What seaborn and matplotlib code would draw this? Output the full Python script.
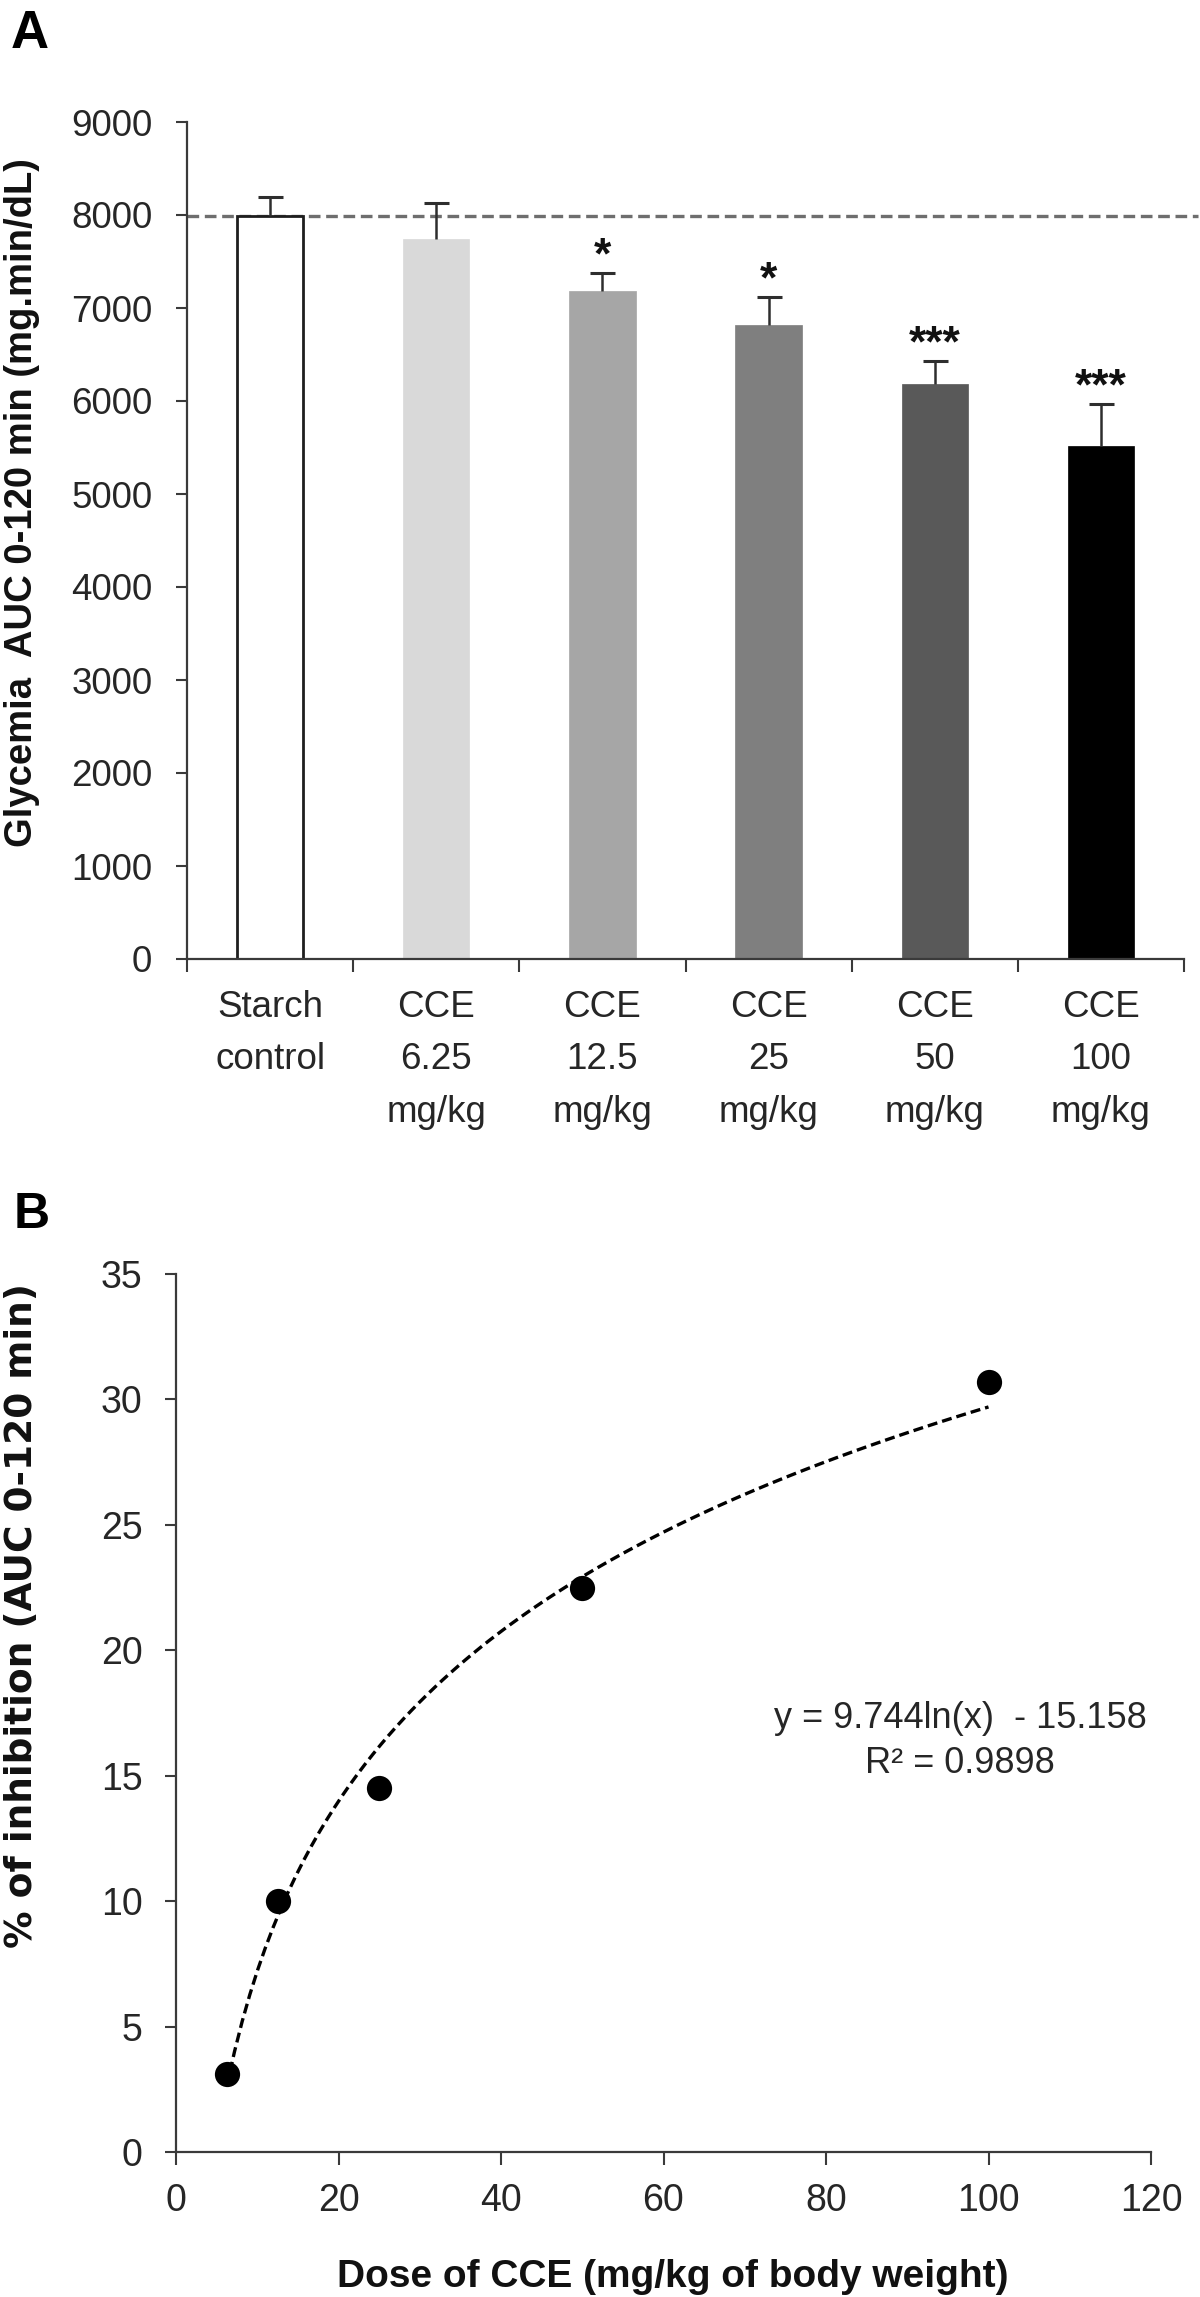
import numpy as np
import pandas as pd
import matplotlib
matplotlib.use("Agg")
import matplotlib.pyplot as plt
import seaborn as sns

# ---------------- data ----------------
# Panel A
groups = ["Starch\ncontrol", "CCE\n6.25\nmg/kg", "CCE\n12.5\nmg/kg",
          "CCE\n25\nmg/kg", "CCE\n50\nmg/kg", "CCE\n100\nmg/kg"]
auc_mean = [7990, 7745, 7180, 6820, 6185, 5520]
auc_err = [200, 380, 200, 300, 245, 450]
signif = ["", "", "*", "*", "***", "***"]
bar_colors = ["#ffffff", "#d9d9d9", "#a6a6a6", "#7f7f7f", "#595959", "#000000"]
yticks_a = [0, 1000, 2000, 3000, 4000, 5000, 6000, 7000, 8000, 9000]

# Panel B
dose = [6.25, 12.5, 25, 50, 100]
inhibition = [3.1, 10.0, 14.5, 22.5, 30.7]
xticks_b = [0, 20, 40, 60, 80, 100, 120]
yticks_b = [0, 5, 10, 15, 20, 25, 30, 35]
eq_line1 = "y = 9.744ln(x)  - 15.158"
eq_line2 = "R² = 0.9898"

# ---------------- style ----------------
sns.set_theme(style="white")
plt.rcParams["font.family"] = ["Liberation Sans", "DejaVu Sans"]
plt.rcParams["axes.linewidth"] = 1.6
AX_COL = "#3a3a3a"
TXT_COL = "#262626"

W, H = 1200, 2297
fig = plt.figure(figsize=(W / 100, H / 100), dpi=100)
fig.patch.set_facecolor("white")


def px_axes(left, top, right, bottom):
    return fig.add_axes([left / W, 1 - bottom / H, (right - left) / W, (bottom - top) / H])


# ---------------- Panel A ----------------
axA = px_axes(187, 122, 1184, 959)
dfA = pd.DataFrame({"group": groups, "auc": auc_mean})
sns.barplot(data=dfA, x="group", y="auc", hue="group", palette=bar_colors,
            order=groups, hue_order=groups, legend=False, width=0.4,
            saturation=1, errorbar=None, ax=axA, zorder=2)
for i, p in enumerate(axA.patches):
    if i == 0:
        p.set_edgecolor("#1e1e1e")
        p.set_linewidth(2.0)
    else:
        p.set_edgecolor(p.get_facecolor())
        p.set_linewidth(0.5)

xpos = np.arange(len(groups))
tops = np.add(auc_mean, auc_err)
axA.errorbar(xpos, auc_mean, yerr=[np.zeros(len(groups)), auc_err], fmt="none",
             ecolor="#2e2e2e", elinewidth=1.8, capsize=0, zorder=3)
axA.plot(xpos, tops, ls="none", marker="_", ms=18, mew=2.2, color="#2e2e2e", zorder=3)
for i, s in enumerate(signif):
    if s:
        axA.text(xpos[i], tops[i] + 45, s, ha="center", va="baseline",
                 fontsize=32, fontweight="bold", color="#111111")

axA.axhline(auc_mean[0], xmin=0, xmax=1.014, color="#6e6e6e", lw=2.4,
            ls=(0, (3.5, 1.7)), clip_on=False, zorder=1)

axA.set_ylim(0, 9000)
axA.set_xlim(-0.5, len(groups) - 0.5)
axA.set_yticks(yticks_a)
axA.set_yticklabels([str(v) for v in yticks_a])
axA.set_xticks(xpos)
axA.set_xticklabels(groups, linespacing=1.65)
axA.set_xticks(np.arange(-0.5, len(groups), 1.0), minor=True)
axA.tick_params(axis="x", which="major", length=0, pad=22, labelsize=26.5, labelcolor=TXT_COL)
axA.tick_params(axis="x", which="minor", length=9, width=1.5, color=AX_COL, direction="out", bottom=True)
axA.tick_params(axis="y", which="major", length=8, width=1.5, color=AX_COL, direction="out",
                pad=17, labelsize=26.5, labelcolor=TXT_COL, left=True)
axA.set_xlabel("")
axA.set_ylabel("")
for side in ["top", "right"]:
    axA.spines[side].set_visible(False)
for side in ["left", "bottom"]:
    axA.spines[side].set_color(AX_COL)
axA.set_facecolor("none")

fig.text(4 / W, 1 - 503 / H, "Glycemia  AUC 0-120 min (mg.min/dL)", rotation=90,
         ha="left", va="center", fontsize=27.5, fontweight="bold", color="#111111")
fig.text(11 / W, 1 - 9 / H, "A", ha="left", va="top", fontsize=38,
         fontweight="bold", color="black")

# ---------------- Panel B ----------------
axB = px_axes(176, 1274, 1151, 2152)
sns.regplot(x=np.array(dose), y=np.array(inhibition), logx=True, ci=None, ax=axB,
            color="black",
            scatter_kws=dict(s=330, zorder=4, linewidths=0, alpha=1),
            line_kws=dict(lw=2.4, ls=(0, (3.0, 1.5)), zorder=3))
axB.set_xlim(0, 120)
axB.set_ylim(0, 35)
axB.set_xticks(xticks_b)
axB.set_xticklabels([str(v) for v in xticks_b])
axB.set_yticks(yticks_b)
axB.set_yticklabels([str(v) for v in yticks_b])
axB.tick_params(axis="x", length=9, width=1.5, color=AX_COL, direction="out", pad=13,
                labelsize=27, labelcolor=TXT_COL, bottom=True)
axB.tick_params(axis="y", length=8, width=1.5, color=AX_COL, direction="out", pad=16,
                labelsize=27, labelcolor=TXT_COL, left=True)
for side in ["top", "right"]:
    axB.spines[side].set_visible(False)
for side in ["left", "bottom"]:
    axB.spines[side].set_color(AX_COL)
axB.set_facecolor("none")

axB.text(96.5, 16.9, eq_line1, ha="center", va="baseline", fontsize=26, color=TXT_COL)
axB.text(96.5, 15.1, eq_line2, ha="center", va="baseline", fontsize=26, color=TXT_COL)

axB.set_xlabel("Dose of CCE (mg/kg of body weight)", fontsize=28, fontweight="bold",
               color="#111111")
axB.xaxis.set_label_coords((673 - 176) / 975, (2152 - 2277) / 878)
axB.xaxis.label.set_va("center")
axB.set_ylabel("")

fig.text(4 / W, 1 - 1615 / H, "% of inhibition (AUC 0-120 min)", rotation=90,
         ha="left", va="center", fontsize=27, fontweight="bold", color="#111111",
         family=["DejaVu Sans"])
fig.text(14 / W, 1 - 1192 / H, "B", ha="left", va="top", fontsize=36,
         fontweight="bold", color="black")

fig.savefig("out.png", dpi=100, facecolor="white")
